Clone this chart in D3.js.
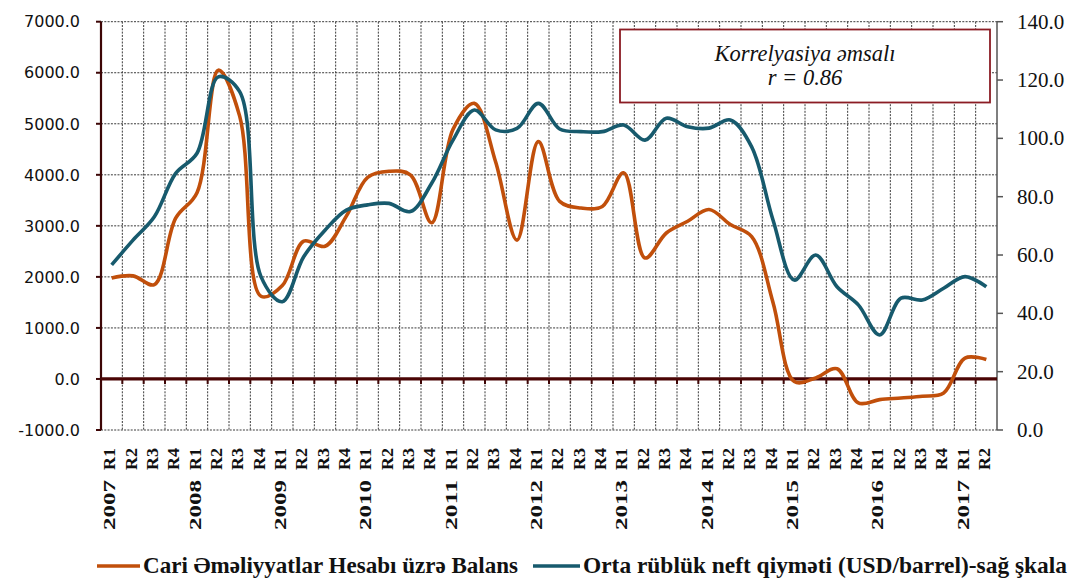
<!DOCTYPE html>
<html>
<head>
<meta charset="utf-8">
<script src="https://cdn.jsdelivr.net/npm/d3@7"></script>
<style>
  html, body { margin: 0; padding: 0; background: #fff; }
  svg { display: block; }
</style>
</head>
<body>
<div id="chart"></div>
<script>
// rüblər
const years = [2007, 2008, 2009, 2010, 2011, 2012, 2013, 2014, 2015, 2016, 2017];
const quarters = ['R1', 'R2', 'R3', 'R4'];
const lastQuarters = 2; // 2017 - yalnız R1, R2

// Cari əməliyyatlar hesabı üzrə balans (sol şkala)
const balance = [1980, 2020, 1850, 3150, 3650, 6050, 5150, 1620, 1830, 2700,
    2600, 3190, 3950, 4070, 4000, 3060, 4890, 5400, 4250, 2720,
    4650, 3480, 3350, 3380, 4040, 2370, 2860, 3090, 3320, 3025,
    2790, 1500, -50, 20, 200, -470, -405, -373, -340, -275,
    410, 380];

// Orta rüblük neft qiyməti (sağ şkala)
const oil = [56.6, 65.1, 73.1, 88.0, 94.9, 121.1, 116.0, 52.6, 44.0, 59.4,
    68.5, 75.4, 77.2, 77.7, 74.9, 84.6, 99.4, 109.7, 102.9, 103.4,
    112.0, 103.2, 102.3, 102.3, 104.6, 99.4, 106.9, 104.0, 103.5, 106.3,
    97.1, 72.0, 51.4, 60.0, 49.1, 42.9, 32.6, 45.2, 44.6, 48.6,
    52.6, 49.1];

const leftTicks = [-1000, 0, 1000, 2000, 3000, 4000, 5000, 6000, 7000];
const rightTicks = [0, 20, 40, 60, 80, 100, 120, 140];

const legendNames = ['Cari Əməliyyatlar Hesabı üzrə Balans', 'Orta rüblük neft qiyməti (USD/barrel)-sağ şkala'];
const noteLines = ['Korrelyasiya əmsalı', 'r = 0.86'];

const colors = ['#c14f0b', '#175a6d']; // [balans, neft]

// kateqoriyalar
let categories = [];
years.forEach((y, yi) => {
    let qs = yi === years.length - 1 ? quarters.slice(0, lastQuarters) : quarters;
    qs.forEach((q) => categories.push({year: y, q: q, id: y + ' ' + q}));
});

const width = 1072;
const height = 578;
const margin = {left: 101, right: 75, top: 21.7, bottom: 148};

const svg = d3.select('#chart').append('svg')
    .attr('width', width)
    .attr('height', height);

const x = d3.scaleBand()
    .domain(categories.map((d) => d.id))
    .range([margin.left, width - margin.right])
    .padding(0);

const yL = d3.scaleLinear()
    .domain([-1000, 7000])
    .range([height - margin.bottom, margin.top]);

const yR = d3.scaleLinear()
    .domain([0, 140])
    .range([height - margin.bottom, margin.top]);

const x0 = margin.left;
const x1 = width - margin.right;
const bw = x.bandwidth();

// şəbəkə xətləri
const grid = svg.append('g').attr('class', 'grid');
grid.selectAll('line.h')
    .data(leftTicks.filter((d) => d !== 0))
    .enter()
    .append('line')
    .attr('x1', x0)
    .attr('x2', x1)
    .attr('y1', (d) => yL(d))
    .attr('y2', (d) => yL(d))
    .attr('stroke', '#3a3a3a')
    .attr('stroke-width', 1)
    .attr('stroke-dasharray', '2,1.3');

grid.selectAll('line.v')
    .data(categories.slice(1))
    .enter()
    .append('line')
    .attr('x1', (d) => x(d.id))
    .attr('x2', (d) => x(d.id))
    .attr('y1', yL(7000))
    .attr('y2', yL(-1000))
    .attr('stroke', '#3a3a3a')
    .attr('stroke-width', 1)
    .attr('stroke-dasharray', '2,1.3');

// sol ox
const leftAxis = svg.append('g').attr('transform', `translate(${x0},0)`);
leftAxis.append('line')
    .attr('y1', yL(7000)).attr('y2', yL(-1000))
    .attr('stroke', '#3d0606').attr('stroke-width', 2.2);
leftAxis.selectAll('line.t')
    .data(leftTicks)
    .enter()
    .append('line')
    .attr('x1', -5).attr('x2', 0)
    .attr('y1', (d) => yL(d)).attr('y2', (d) => yL(d))
    .attr('stroke', '#3d0606').attr('stroke-width', 2);
leftAxis.selectAll('text')
    .data(leftTicks)
    .enter()
    .append('text')
    .attr('x', -21)
    .attr('y', (d) => yL(d))
    .attr('dy', '0.36em')
    .attr('text-anchor', 'end')
    .attr('font-family', '"DejaVu Sans", sans-serif')
    .attr('font-size', '16px')
    .attr('fill', '#111')
    .text((d) => d.toFixed(1));

// sağ ox
const rightAxis = svg.append('g').attr('transform', `translate(${x1},0)`);
rightAxis.append('line')
    .attr('y1', yR(140)).attr('y2', yR(0))
    .attr('stroke', '#555').attr('stroke-width', 1.5);
rightAxis.selectAll('line.t')
    .data(rightTicks)
    .enter()
    .append('line')
    .attr('x1', 0).attr('x2', 6)
    .attr('y1', (d) => yR(d)).attr('y2', (d) => yR(d))
    .attr('stroke', '#555').attr('stroke-width', 1.5);
rightAxis.selectAll('text')
    .data(rightTicks)
    .enter()
    .append('text')
    .attr('x', 20)
    .attr('y', (d) => yR(d))
    .attr('dy', '0.34em')
    .attr('font-family', '"Liberation Serif", serif')
    .attr('font-size', '21px')
    .attr('fill', '#111')
    .text((d) => d.toFixed(1));

// sıfır xətti
const zero = svg.append('g');
zero.selectAll('line.t')
    .data(categories.slice(1))
    .enter()
    .append('line')
    .attr('x1', (d) => x(d.id)).attr('x2', (d) => x(d.id))
    .attr('y1', yL(0)).attr('y2', yL(0) + 5)
    .attr('stroke', '#3d0606').attr('stroke-width', 2);
zero.append('line')
    .attr('x1', x0).attr('x2', x1)
    .attr('y1', yL(0)).attr('y2', yL(0))
    .attr('stroke', '#4a0505').attr('stroke-width', 3.2);

// x oxu yazıları
const labels = svg.append('g')
    .attr('font-family', '"Liberation Serif", serif')
    .attr('font-weight', 'bold')
    .attr('font-size', '16px')
    .attr('fill', '#111');
categories.forEach((d) => {
    let cx = x(d.id) + bw / 2 - 2;
    labels.append('text')
        .attr('transform', `translate(${cx},448) rotate(-90)`)
        .attr('text-anchor', 'end')
        .attr('dy', '0.35em')
        .attr('textLength', 22)
        .attr('lengthAdjust', 'spacingAndGlyphs')
        .text(d.q);
    if (d.q === 'R1') {
        labels.append('text')
            .attr('transform', `translate(${cx},480) rotate(-90)`)
            .attr('text-anchor', 'end')
            .attr('dy', '0.35em')
            .attr('textLength', 50)
            .attr('lengthAdjust', 'spacingAndGlyphs')
            .text(d.year);
    }
});

// xətlər
const lineL = d3.line()
    .x((d, i) => x(categories[i].id) + bw / 2)
    .y((d) => yL(d))
    .curve(d3.curveCatmullRom.alpha(0.5));

const lineR = d3.line()
    .x((d, i) => x(categories[i].id) + bw / 2)
    .y((d) => yR(d))
    .curve(d3.curveCatmullRom.alpha(0.5));

svg.append('path')
    .datum(balance)
    .attr('d', lineL)
    .attr('fill', 'none')
    .attr('stroke', colors[0])
    .attr('stroke-width', 3.6)
    .attr('stroke-linejoin', 'round');

svg.append('path')
    .datum(oil)
    .attr('d', lineR)
    .attr('fill', 'none')
    .attr('stroke', colors[1])
    .attr('stroke-width', 3.6)
    .attr('stroke-linejoin', 'round');

// korrelyasiya qutusu
const note = svg.append('g');
note.append('rect')
    .attr('x', 620).attr('y', 29.5)
    .attr('width', 370).attr('height', 73)
    .attr('fill', '#fff')
    .attr('stroke', '#8b1c24')
    .attr('stroke-width', 1.8);
note.selectAll('text')
    .data(noteLines)
    .enter()
    .append('text')
    .attr('x', 805)
    .attr('y', (d, i) => 61 + i * 24)
    .attr('text-anchor', 'middle')
    .attr('font-family', '"Liberation Serif", serif')
    .attr('font-style', 'italic')
    .attr('font-size', '22.5px')
    .attr('fill', '#111')
    .text((d) => d);

// legend
const legendPos = [{lx: 97, tx: 143, w: 375}, {lx: 533, tx: 583, w: 484}];
const legend = svg.append('g');
legendNames.forEach((name, i) => {
    legend.append('line')
        .attr('x1', legendPos[i].lx).attr('x2', legendPos[i].tx - 3)
        .attr('y1', 566).attr('y2', 566)
        .attr('stroke', colors[i])
        .attr('stroke-width', 3.6);
    legend.append('text')
        .attr('x', legendPos[i].tx)
        .attr('y', 573)
        .attr('font-family', '"Liberation Serif", serif')
        .attr('font-weight', 'bold')
        .attr('font-size', '22.5px')
        .attr('textLength', legendPos[i].w)
        .attr('lengthAdjust', 'spacingAndGlyphs')
        .attr('fill', '#111')
        .text(name);
});
</script>
</body>
</html>
